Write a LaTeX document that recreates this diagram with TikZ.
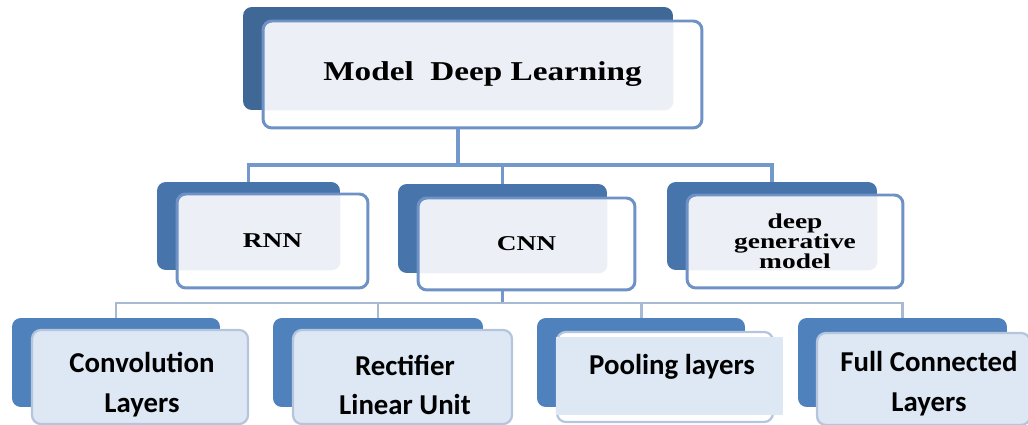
\documentclass[tikz,border=0pt]{standalone}
\usepackage{fontspec}
\setmainfont{Liberation Serif}
\newfontfamily\calibri{Carlito}
\usetikzlibrary{calc}

\definecolor{topdark}{HTML}{3F6896}
\definecolor{middark}{HTML}{4874AC}
\definecolor{lowdark}{HTML}{4F81BD}
\definecolor{frontline}{HTML}{6E91C6}
\definecolor{lightfill}{HTML}{ECEFF5}
\definecolor{lowfill}{HTML}{DDE8F4}
\definecolor{lowline}{HTML}{B4C5DC}
\definecolor{busline}{HTML}{7398CB}
\definecolor{lowbus}{HTML}{A8BAD3}

\newcommand\stretchx[2]{\scalebox{#1}[1]{#2}}

\begin{document}
\begin{tikzpicture}[x=0.02cm,y=-0.02cm,
  backbox/.style={fill=#1, rounded corners=5pt, inner sep=0pt},
  frontbox/.style={draw=frontline, line width=1.7pt, fill=white,
    rounded corners=5pt, inner sep=0pt, align=center},
  overlap/.style={path picture={\fill[lightfill] (#1.north west) rectangle (#1.south east);}},
  lowfront/.style={draw=lowline, line width=1.3pt, fill=lowfill,
    rounded corners=5pt, inner sep=0pt},
  conn/.style={draw=busline, line width=2.2pt},
  lowconn/.style={draw=lowbus, line width=1.7pt},
  topfont/.style={font=\fontsize{15.5}{17}\selectfont\bfseries},
  midfont/.style={font=\fontsize{12}{11.3}\selectfont\bfseries},
  lowtext/.style={font=\calibri\bfseries\fontsize{16.4}{22.7}\selectfont, align=center, inner sep=0pt}
]
\useasboundingbox (0,0) rectangle (1028,425);
\clip (0,0) rectangle (1028,425);

% ---- root ----
\node[backbox=topdark, minimum width=8.6cm, minimum height=2.06cm] (topb) at (458,58.5) {};
\node[frontbox, overlap=topb, topfont, minimum width=8.78cm, minimum height=2.14cm] (top) at (482.5,74.5)
  {\stretchx{1.22}{Model\ \ Deep Learning}};

% ---- second level ----
\node[backbox=middark, minimum width=3.66cm, minimum height=1.76cm] (rnnb) at (248.5,226) {};
\node[backbox=middark, minimum width=4.18cm, minimum height=1.78cm] (cnnb) at (502.5,228.5) {};
\node[backbox=middark, minimum width=4.2cm, minimum height=1.76cm] (deepb) at (772,226) {};

\node[frontbox, overlap=rnnb, midfont, minimum width=3.82cm, minimum height=1.88cm] (rnn) at (272.5,241)
  {\stretchx{1.3}{RNN}};
\node[frontbox, overlap=cnnb, midfont, minimum width=4.34cm, minimum height=1.84cm] (cnn) at (526.5,244)
  {\stretchx{1.3}{CNN}};
\node[frontbox, overlap=deepb, midfont, minimum width=4.32cm, minimum height=1.86cm] (deep) at (795,241.5)
  {\stretchx{1.3}{deep}\\ \stretchx{1.3}{generative}\\ \stretchx{1.3}{model}};

% ---- first bus ----
\coordinate (bus1) at (0,165);
\draw[conn] (topb.center |- top.south) -- (topb.center |- bus1);
\draw[conn] (rnnb.north) -- (rnnb.north |- bus1) -- (deepb.north |- bus1) -- (deepb.north);
\draw[conn] (cnnb.north |- bus1) -- (cnnb.north);

% ---- third level ----
\node[backbox=lowdark, minimum width=4.16cm, minimum height=1.78cm] (convb) at (116,362.5) {};
\node[backbox=lowdark, minimum width=4.2cm, minimum height=1.78cm] (rectb) at (378,362.5) {};
\node[backbox=lowdark, minimum width=4.16cm, minimum height=1.78cm] (poolb) at (641,362.5) {};
\node[backbox=lowdark, minimum width=4.18cm, minimum height=1.78cm] (fullb) at (902.5,362.5) {};

\node[lowfront, minimum width=4.32cm, minimum height=1.88cm] (conv) at (140,377) {};
\node[lowfront, minimum width=4.38cm, minimum height=1.88cm] (rect) at (402.5,377) {};
\node[lowfront, fill=white, minimum width=4.32cm, minimum height=1.8cm] (pool) at (665,377) {};
\fill[lowfill] (pool.west |- 0,337) rectangle (783,415);
\node[lowfront, minimum width=4.26cm, minimum height=1.84cm] (full) at (923.5,379) {};

\node[lowtext] (convt) at (142,385) {Convolution\\Layers};
\node[lowtext] (rectt) at (405,385) {Rectifier\\Linear Unit};
\node[lowtext] (poolt) at (672,367) {Pooling layers};
\node[lowtext] (fullt) at (929,384) {Full Connected\\Layers};

% ---- second bus ----
\coordinate (bus2) at (0,303);
\draw[conn] (cnnb.center |- cnn.south) -- (cnnb.center |- bus2);
\draw[lowconn] (convb.north) -- (convb.north |- bus2) -- (fullb.north |- bus2) -- (fullb.north);
\draw[lowconn] (rectb.north |- bus2) -- (rectb.north);
\draw[lowconn] (poolb.north |- bus2) -- (poolb.north);
\end{tikzpicture}
\end{document}
